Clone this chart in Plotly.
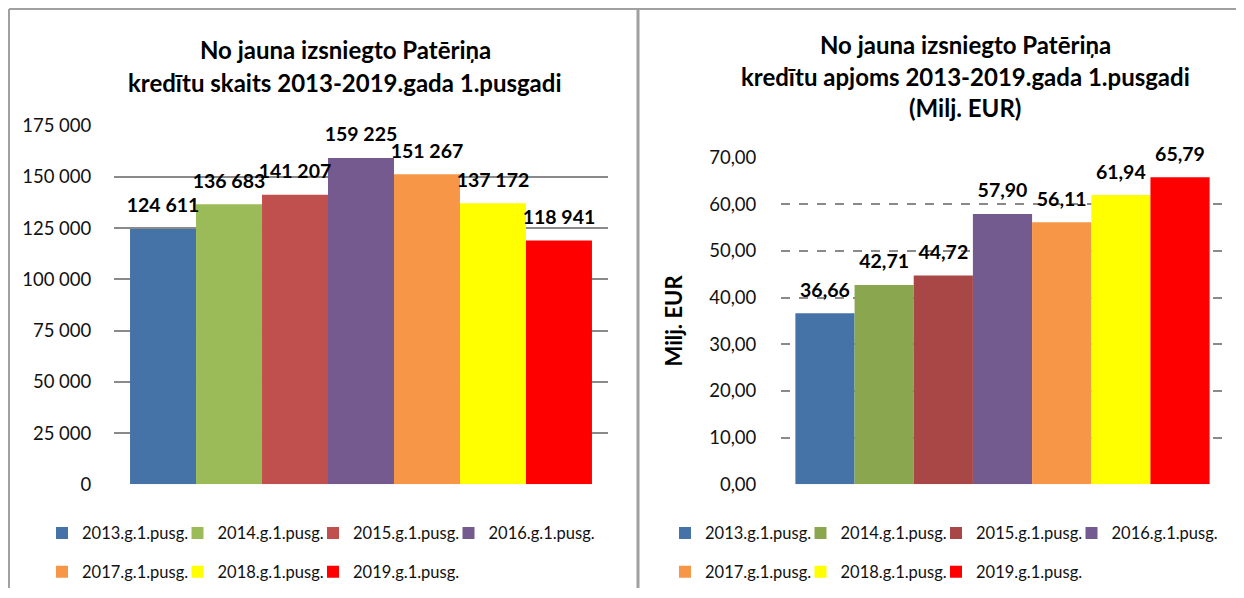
import plotly.graph_objects as go

# the page body keeps its default 8px margin, so the figure is drawn 16px smaller
OFF = 8
W, H = 1244 - 2 * OFF, 598 - 2 * OFF

# data
periods = ["2013.g.1.pusg.", "2014.g.1.pusg.", "2015.g.1.pusg.", "2016.g.1.pusg.",
           "2017.g.1.pusg.", "2018.g.1.pusg.", "2019.g.1.pusg."]
count_vals = [124611, 136683, 141207, 159225, 151267, 137172, 118941]
volume_vals = [36.66, 42.71, 44.72, 57.90, 56.11, 61.94, 65.79]
colors_left = ["#4572A7", "#9BBB59", "#C0504D", "#745A8F", "#F79646", "#FFFF00", "#FF0000"]
colors_right = ["#4572A7", "#8AA64F", "#A84745", "#735A8F", "#F79646", "#FFFF00", "#FF0000"]
title_left = ["No jauna izsniegto Patēriņa", "kredītu skaits 2013-2019.gada 1.pusgadi"]
title_right = ["No jauna izsniegto Patēriņa", "kredītu apjoms 2013-2019.gada 1.pusgadi", "(Milj. EUR)"]

FONT = "Lato"
pos = list(range(len(periods)))


def px(x):
    return (x - OFF) / W


def py(y):
    return 1 - (y - OFF) / H


fig = go.Figure()

panels = [
    ("x", "y", count_vals, colors_left, "%{y:,d}", 58),
    ("x2", "y2", volume_vals, colors_right, "%{y:.2f}", 681),
]
n = 0
for xa, ya, vals, cols, tmpl, leg_x0 in panels:
    for i, name in enumerate(periods):
        n += 1
        lname = "legend" if n == 1 else f"legend{n}"
        fig.add_trace(go.Bar(
            x=[pos[i]], y=[vals[i]], width=1, name=name, marker_color=cols[i],
            marker_line_width=0, xaxis=xa, yaxis=ya, legend=lname,
        ))
        # one legend per entry, laid out as 4 + 3 columns
        row, col = divmod(i, 4)
        fig.update_layout({lname: dict(
            orientation="h", xanchor="left", yanchor="middle",
            x=px(leg_x0 - 16 + 135.5 * col), y=py(535 + 39 * row),
            font=dict(family=FONT, size=16.5, color="#111"),
            bgcolor="rgba(0,0,0,0)", itemclick=False, itemdoubleclick=False,
        )})
    # value labels above the bars (invisible markers push the text up a bit)
    fig.add_trace(go.Scatter(
        x=pos, y=vals, mode="markers+text", texttemplate=tmpl, textposition="top center",
        marker=dict(size=17, opacity=0), cliponaxis=False, showlegend=False,
        hoverinfo="skip", xaxis=xa, yaxis=ya,
        textfont=dict(family=FONT, size=19.5, weight="bold", color="black"),
    ))

tickfont = dict(family=FONT, size=18.5, color="#111")
xrange = [-0.743, len(periods) - 1 + 0.743]

fig.update_layout(
    width=W, height=H,
    margin=dict(l=0, r=0, t=0, b=0),
    paper_bgcolor="white", plot_bgcolor="white",
    separators=", ", showlegend=True,
    barmode="overlay",
    font=dict(family=FONT, color="black"),
    xaxis=dict(domain=[px(114), px(608)], range=xrange, showticklabels=False, showgrid=False,
               zeroline=False, showline=False, fixedrange=True, automargin=False),
    yaxis=dict(domain=[py(486), py(126)], range=[0, 175000], dtick=25000,
               tickformat=",d", tickfont=tickfont, showgrid=True,
               gridcolor="#8A8A8A", gridwidth=2, zeroline=False, automargin=False,
               ticks="outside", ticklen=18, tickcolor="rgba(0,0,0,0)"),
    xaxis2=dict(domain=[px(781), px(1224)], range=xrange, showticklabels=False, showgrid=False,
                zeroline=False, showline=False, fixedrange=True, anchor="y2",
                automargin=False),
    yaxis2=dict(domain=[py(486), py(158)], range=[0, 70], dtick=10,
                tickformat=".2f", tickfont=tickfont, showgrid=True,
                gridcolor="#8A8A8A", gridwidth=1.5, griddash="dash", zeroline=False,
                ticks="outside", ticklen=20, tickcolor="rgba(0,0,0,0)", anchor="x2",
                automargin=False,
                title=dict(text="Milj. EUR", font=dict(family=FONT, size=22, weight="bold"),
                           standoff=20)),
)

# panel titles
for j, line in enumerate(title_left):
    fig.add_annotation(text=line, x=px(345), y=py(50 + 33 * j), xref="paper", yref="paper",
                       xanchor="center", yanchor="middle", showarrow=False,
                       font=dict(family=FONT, size=24, weight="bold"))
for j, line in enumerate(title_right):
    fig.add_annotation(text=line, x=px(965), y=py(45 + 31.5 * j), xref="paper", yref="paper",
                       xanchor="center", yanchor="middle", showarrow=False,
                       font=dict(family=FONT, size=24, weight="bold"))

# frame lines
frame = dict(type="line", xref="paper", yref="paper", line=dict(color="#A0A0A0", width=2))
fig.add_shape(frame, x0=px(9), x1=1, y0=py(9), y1=py(9))
fig.add_shape(frame, x0=px(9), x1=px(9), y0=py(9), y1=0)
fig.add_shape(dict(frame, line=dict(color="#A0A0A0", width=3)), x0=px(638), x1=px(638), y0=py(9), y1=0)

fig.write_html("out.html")
